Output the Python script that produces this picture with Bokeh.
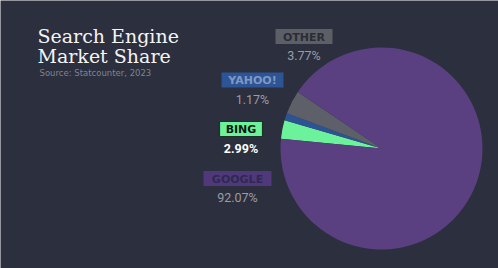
import math
from bokeh.plotting import figure
from bokeh.models import Range1d, ColumnDataSource
from bokeh.core.properties import value
from bokeh.embed import file_html
from bokeh.resources import INLINE

# ---- data ----
engines = ["BING", "YAHOO!", "OTHER", "GOOGLE"]
shares = [2.99, 1.17, 3.77, 92.07]
share_labels = ["2.99%", "1.17%", "3.77%", "92.07%"]

# ---- styles / layout ----
BG = "#2c2f3e"
slice_colors = ["#6cf29a", "#2c5394", "#5d6068", "#5a4081"]
box_fill = ["#6cf29a", "#2d5596", "#5c5f66", "#50397a"]
box_line = ["#1d3326", None, None, None]
box_text_color = ["#0d1a12", "#7f98c4", "#2a2d38", "#2f2852"]
pct_color = ["#ffffff", "#9a9ca6", "#9a9ca6", "#9a9ca6"]
pct_style = ["bold", "normal", "normal", "normal"]
# label positions in screen pixels (x centre, y centre of box, width)
box_cx = [240.5, 252, 303.5, 237]
box_cy = [128.5, 79.5, 36, 178]
box_w = [43, 62, 57, 68]
pct_cy = [148, 99, 55, 197]

W, H = 498, 268
cx, cy, r = 381, 148, 101
start_deg = 174.5

p = figure(width=W, height=H, x_range=Range1d(0, W), y_range=Range1d(0, H),
           output_backend="svg", toolbar_location=None, min_border=0)
p.axis.visible = False
p.grid.visible = False
p.outline_line_color = None
p.background_fill_color = BG
p.border_fill_color = BG

# wedges, clockwise from start angle
starts, ends = [], []
a = math.radians(start_deg)
for s in shares:
    starts.append(a)
    a -= s / 100 * 2 * math.pi
    ends.append(a)
src = ColumnDataSource(dict(start=starts, end=ends, color=slice_colors))
p.wedge(x=cx, y=H - cy, radius=r, start_angle="start", end_angle="end",
        direction="clock", fill_color="color", line_color=None, source=src)

# label boxes
for i, name in enumerate(engines):
    p.rect(x=box_cx[i], y=H - box_cy[i], width=box_w[i], height=15,
           fill_color=box_fill[i],
           line_color=box_line[i] if box_line[i] else None, line_width=1.2)
    p.text(x=[box_cx[i]], y=[H - box_cy[i] - 0.5], text=[name],
           text_font=value("DejaVu Sans"), text_font_style="bold",
           text_font_size="11px", text_color=box_text_color[i],
           text_align="center", text_baseline="middle")
    p.text(x=[box_cx[i]], y=[H - pct_cy[i]], text=[share_labels[i]],
           text_font=value("Roboto"),
           text_font_style=pct_style[i],
           text_font_size="12.5px", text_color=pct_color[i],
           text_align="center", text_baseline="middle")

# title
p.text(x=[37, 37], y=[H - 35, H - 55], text=["Search Engine", "Market Share"],
       text_font=value("DejaVu Serif"), text_font_size="19px",
       text_color="#f4f4f4", text_align="left", text_baseline="middle")
p.text(x=[39], y=[H - 72.5], text=["Source: Statcounter, 2023"],
       text_font=value("DejaVu Sans"), text_font_size="8.5px",
       text_color="#80838f", text_align="left", text_baseline="middle")

open("out.html", "w").write(file_html(p, INLINE))
